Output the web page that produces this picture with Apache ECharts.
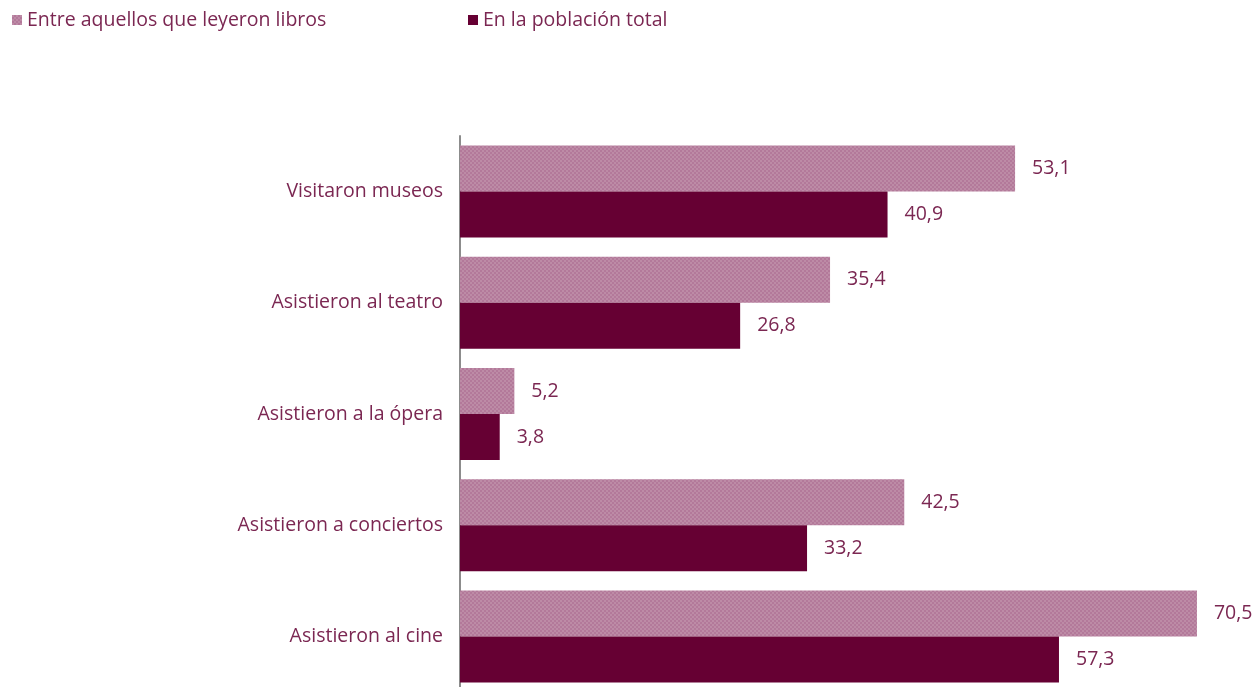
<!DOCTYPE html>
<html>
<head>
<meta charset="utf-8">
<style>
  html, body { margin: 0; padding: 0; background: #fff; overflow: hidden; }
  #chart { width: 1258px; height: 693px; }
</style>
<script src="https://cdn.jsdelivr.net/npm/echarts@6/dist/echarts.min.js"></script>
</head>
<body>
<div id="chart"></div>
<script>
  // datos
  const categories = [
    'Visitaron museos',
    'Asistieron al teatro',
    'Asistieron a la ópera',
    'Asistieron a conciertos',
    'Asistieron al cine',
  ];
  const seriesNames = ['Entre aquellos que leyeron libros', 'En la población total'];
  const lectores = [53.1, 35.4, 5.2, 42.5, 70.5];
  const poblacion = [40.9, 26.8, 3.8, 33.2, 57.3];

  const textColor = '#7b2752';
  const font = '"Open Sans", sans-serif';
  const fontSize = 19.5;

  // patrón cuadriculado para la serie clara
  const makePattern = () => {
    const c = document.createElement('canvas');
    c.width = 4;
    c.height = 4;
    const ctx = c.getContext('2d');
    for (let x = 0; x < 4; x++) {
      for (let y = 0; y < 4; y++) {
        ctx.fillStyle = ((Math.floor(x / 2) + Math.floor(y / 2)) % 2) ? '#b3799a' : '#bd8ba6';
        ctx.fillRect(x, y, 1, 1);
      }
    }
    return { image: c, repeat: 'repeat' };
  };

  const chart = echarts.init(document.getElementById('chart'));

  const labelStyle = {
    show: true,
    position: 'right',
    distance: 17,
    color: textColor,
    fontSize: fontSize,
    fontFamily: font,
    formatter: (p) => p.value.toFixed(1).replace('.', ','),
  };

  const legendText = { color: textColor, fontSize: fontSize, fontFamily: font };

  const option = {
    animation: false,
    legend: [
      {
        data: [seriesNames[0]],
        left: 7,
        top: 5,
        icon: 'rect',
        itemWidth: 10,
        itemHeight: 10,
        textStyle: legendText,
      },
      {
        data: [seriesNames[1]],
        left: 463,
        top: 5,
        icon: 'rect',
        itemWidth: 10,
        itemHeight: 10,
        textStyle: legendText,
      },
    ],
    grid: {
      left: 460,
      top: 136,
      width: 784,
      height: 556,
    },
    xAxis: {
      type: 'value',
      min: 0,
      max: 75,
      show: false,
    },
    yAxis: {
      type: 'category',
      data: categories,
      inverse: true,
      axisLine: { show: true, lineStyle: { color: '#8c8c8c', width: 2 } },
      axisTick: { show: false },
      axisLabel: {
        color: textColor,
        fontSize: fontSize,
        fontFamily: font,
        margin: 17,
      },
    },
    series: [
      {
        name: seriesNames[0],
        type: 'bar',
        data: lectores,
        barWidth: 46,
        barGap: '0%',
        itemStyle: { color: makePattern() },
        label: labelStyle,
      },
      {
        name: seriesNames[1],
        type: 'bar',
        data: poblacion,
        barWidth: 46,
        barGap: '0%',
        itemStyle: { color: '#660033' },
        label: labelStyle,
      },
    ],
  };

  chart.setOption(option);
</script>
</body>
</html>
